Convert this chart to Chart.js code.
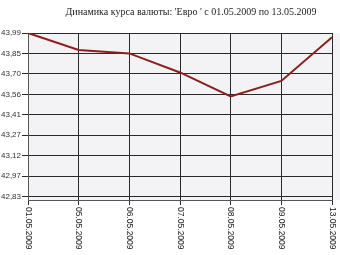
<!DOCTYPE html>
<html>
<head>
<meta charset="utf-8">
<script src="https://cdn.jsdelivr.net/npm/chart.js@4/dist/chart.umd.min.js"></script>
<style>
  html, body { margin: 0; padding: 0; background: #fff; }
  #chart { display: block; }
</style>
</head>
<body>
<canvas id="chart" width="340" height="255"></canvas>
<script>
// Динамика курса евро
const chartTitle = "Динамика курса валюты: 'Евро ' с 01.05.2009 по 13.05.2009";
const dates = ['01.05.2009', '05.05.2009', '06.05.2009', '07.05.2009', '08.05.2009', '09.05.2009', '13.05.2009'];
const rates = [43.99, 43.87, 43.845, 43.71, 43.54, 43.65, 43.96];
const yTickValues = [42.83, 42.975, 43.12, 43.265, 43.41, 43.555, 43.70, 43.845, 43.99];
const yTickLabels = ['42,83', '42,97', '43,12', '43,27', '43,41', '43,56', '43,70', '43,85', '43,99'];

const labelFamily = "'Liberation Sans', Arial, sans-serif";

// фон области графика, заголовок и повернутые подписи дат
const decorPlugin = {
    id: 'decor',
    beforeDraw(chart) {
        const { ctx, chartArea } = chart;
        ctx.save();
        ctx.fillStyle = '#f3f3f5';
        ctx.fillRect(chartArea.left, chartArea.top, chart.width - chartArea.left, chartArea.bottom - chartArea.top);
        ctx.restore();
    },
    afterDraw(chart) {
        const { ctx } = chart;
        const xScale = chart.scales.x;
        ctx.save();
        ctx.fillStyle = '#222';
        ctx.font = "10px 'Liberation Serif', 'Times New Roman', serif";
        ctx.textAlign = 'center';
        ctx.textBaseline = 'middle';
        ctx.fillText(chartTitle, 191, 12);

        ctx.font = '8.5px ' + labelFamily;
        ctx.textAlign = 'left';
        dates.forEach((d, i) => {
            const x = xScale.getPixelForValue(i);
            ctx.save();
            ctx.translate(x, 207);
            ctx.rotate(Math.PI / 2);
            ctx.fillText(d, 0, 0);
            ctx.restore();
        });
        ctx.restore();
    }
};

new Chart(document.getElementById('chart'), {
    type: 'line',
    data: {
        labels: dates,
        datasets: [{
            data: rates,
            borderColor: '#8b1f1f',
            borderWidth: 2,
            pointRadius: 0,
            tension: 0,
            fill: false
        }]
    },
    options: {
        responsive: false,
        animation: false,
        layout: { padding: { top: 33, right: 8, left: 0, bottom: 0 } },
        plugins: {
            legend: { display: false },
            tooltip: { enabled: false }
        },
        scales: {
            x: {
                offset: false,
                grid: { color: '#2a2a2a', lineWidth: 1, drawTicks: true, tickLength: 5 },
                border: { color: '#555', width: 1 },
                ticks: { display: false },
                afterFit(scale) { scale.height = 55; }
            },
            y: {
                min: 42.805,
                max: 43.99,
                grid: { color: '#2a2a2a', lineWidth: 1, tickLength: 6 },
                border: { color: '#555', width: 1 },
                afterBuildTicks(scale) {
                    scale.ticks = yTickValues.map(v => ({ value: v }));
                },
                ticks: {
                    color: '#333',
                    font: { family: labelFamily, size: 8 },
                    padding: 1,
                    callback: function(value, index) {
                        return yTickLabels[index];
                    }
                },
                afterFit(scale) { scale.width = 28; }
            }
        }
    },
    plugins: [decorPlugin]
});
</script>
</body>
</html>
